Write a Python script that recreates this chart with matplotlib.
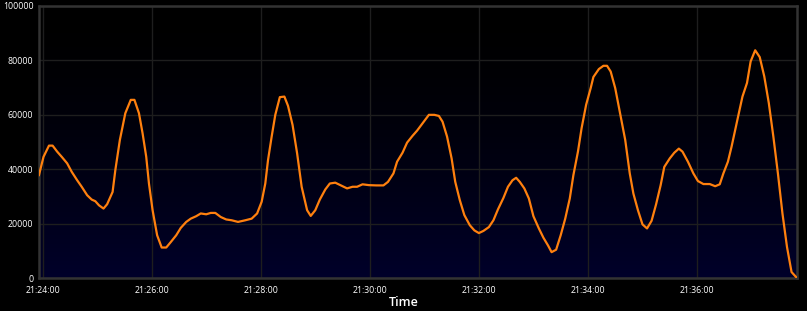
import numpy as np
import pandas as pd
import matplotlib
matplotlib.use("Agg")
import matplotlib.pyplot as plt
import matplotlib.dates as mdates
from matplotlib.colors import LinearSegmentedColormap

plt.rcParams["font.family"] = ["Open Sans", "DejaVu Sans"]

# seconds after 21:24:00
seconds = [
    -4, 1, 7, 11, 16, 21, 27, 32, 38, 43, 49, 54, 58, 62, 67, 71, 77, 80, 85, 91, 97, 101,
    106, 110, 114, 117, 121, 126, 131, 136, 141, 147, 152, 158, 163, 169, 174, 180, 185, 190,
    196, 202, 208, 215, 223, 230, 236, 241, 245, 248, 252, 256, 261, 266, 270, 275, 280, 285,
    291, 295, 300, 305, 311, 316, 322, 330, 335, 341, 346, 352, 359, 367, 375, 380, 386, 390,
    396, 401, 407, 412, 418, 425, 431, 436, 440, 445, 450, 454, 459, 464, 470, 475, 480, 485,
    491, 496, 501, 507, 512, 517, 521, 525, 530, 535, 540, 546, 551, 556, 560, 565, 570, 575,
    580, 584, 589, 593, 598, 603, 606, 612, 617, 621, 625, 630, 635, 641, 646, 650, 655, 660,
    665, 670, 675, 680, 684, 690, 695, 700, 704, 710, 716, 721, 727, 734, 740, 745, 749, 754,
    758, 762, 766, 770, 775, 779, 784, 789, 794, 799, 804, 809, 814, 819, 824, 830,
]
values = [
    37800, 44500, 48600, 48600, 46400, 44500, 42100, 39000, 35900, 33500, 30400, 28800, 28200,
    26700, 25500, 27100, 31600, 39600, 50700, 60500, 65400, 65400,
    60500, 53100, 44500, 34700, 24900, 15700, 11200, 11200, 13200, 15700, 18400, 20600, 21800,
    22700, 23700, 23400, 23900, 23900, 22400, 21500, 21200,
    20600, 21200, 21800, 23700, 28000, 34700, 43300, 51900, 59900, 66400, 66600, 63200, 56200,
    45800, 33500, 24900, 22800, 24900, 28800, 32500, 34700,
    35000, 33700, 32900, 33500, 33500, 34400, 34100, 34000, 34000, 35300, 38400, 42700, 46000,
    49700, 52200, 54100, 56800, 59900,
    59900, 59500, 57400, 51900, 43900, 35300, 28600, 23100, 19400, 17500, 16500, 17300, 18700,
    21200, 25200, 29400, 33500, 35900, 36800, 35300, 32900,
    29200, 22700, 18200, 14800, 12000, 9500, 10400, 15700, 21800, 29200, 37800, 46400, 55000,
    63600, 69700, 73800, 76700, 77900, 77900, 75800, 69700, 61100,
    50700, 38400, 31000, 24900, 19700, 18200, 21000, 27100, 34100, 40800, 43900, 46000, 47500,
    46400, 42700, 38400, 35600, 34500, 34500, 33700, 34400,
    38400, 42700, 48200, 54400, 60500, 66600, 71600, 79500, 83600, 81100, 74000, 64200, 51900,
    38400, 23700, 11400, 2200, 0,
]

start = pd.Timestamp("2024-01-01 21:24:00")
times = start + pd.to_timedelta(seconds, unit="s")

fig = plt.figure(figsize=(8.07, 3.11), dpi=100, facecolor="black")
ax = fig.add_axes([0.0483, 0.106, 0.9393, 0.876])
ax.set_facecolor("black")

# background gradient, black on top fading to dark navy at the bottom
grad = np.linspace(0, 1, 256) ** 1.6
cmap = LinearSegmentedColormap.from_list("bg", ["#000000", "#00002a"])
x0, x1 = mdates.date2num(times[0]), mdates.date2num(times[-1])
ax.imshow(grad.reshape(-1, 1), aspect="auto", cmap=cmap,
          extent=[x0, x1, 0, 100000], origin="upper", zorder=0)

ax.plot(times, values, color="#ff800e", lw=1.6, zorder=3, solid_joinstyle="round")

ax.set_xlim(times[0], times[-1])
ax.set_ylim(0, 100000)
ax.set_yticks(np.arange(0, 100001, 20000))
ax.xaxis.set_major_locator(mdates.MinuteLocator(byminute=range(0, 60, 2)))
ax.xaxis.set_major_formatter(mdates.DateFormatter("%H:%M:%S"))

ax.grid(True, color="#1e1e1e", lw=1)
for gl in ax.get_xgridlines() + ax.get_ygridlines():
    gl.set_zorder(1)

for s in ax.spines.values():
    s.set_color("#333333")
    s.set_linewidth(1.8)

ax.tick_params(colors="white", labelsize=6.3, length=0, pad=4)
ax.tick_params(axis="x", pad=6)

fig.text(0.5, 0.005, "Time", color="white", fontsize=9, fontweight="semibold",
         ha="center", va="bottom")

fig.savefig("out.png", dpi=100, facecolor="black")
